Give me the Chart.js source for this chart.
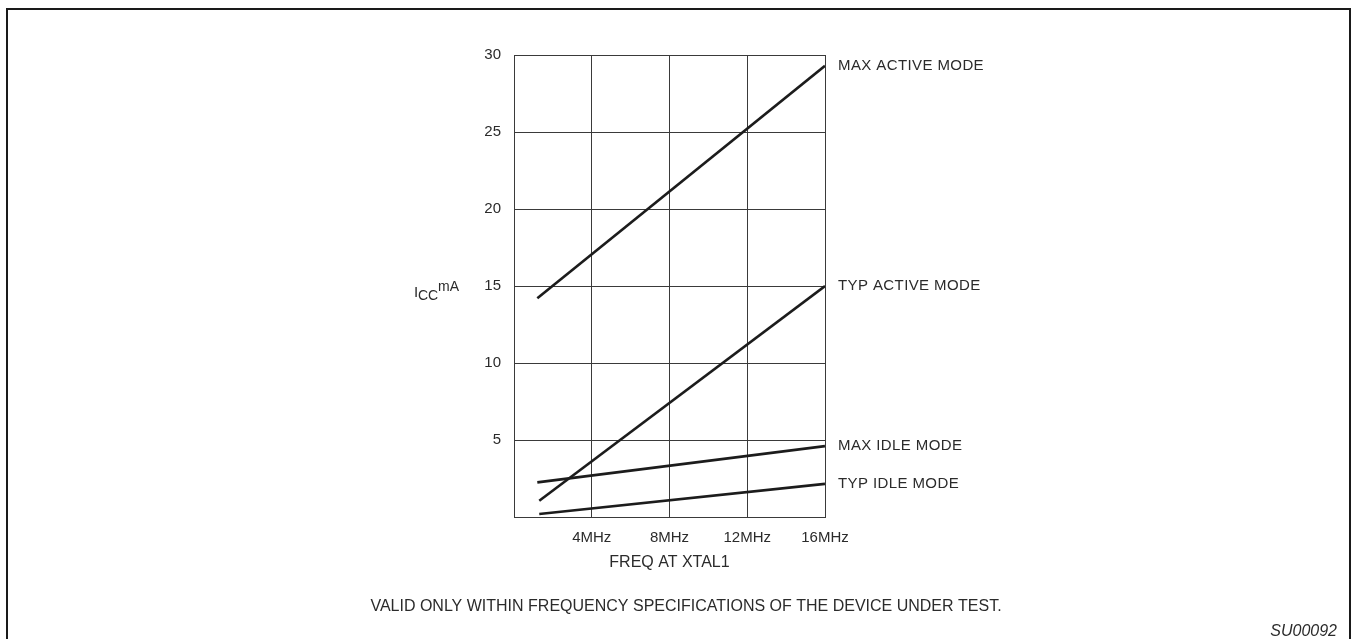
<!DOCTYPE html>
<html>
<head>
<meta charset="utf-8">
<style>
  html, body { margin: 0; padding: 0; background: #fff; }
  #iccChart { display: block; }
</style>
<script src="https://cdn.jsdelivr.net/npm/chart.js"></script>
</head>
<body>
<canvas id="iccChart" width="1353" height="639"></canvas>
<script>
// ICC vs frequency data
const seriesNames = ['MAX ACTIVE MODE', 'TYP ACTIVE MODE', 'MAX IDLE MODE', 'TYP IDLE MODE'];
const maxActiveFreq = [1.2, 16];
const maxActiveIcc = [14.2, 29.3];
const typActiveFreq = [1.3, 16];
const typActiveIcc = [1.05, 15.0];
const maxIdleFreq = [1.2, 16];
const maxIdleIcc = [2.25, 4.6];
const typIdleFreq = [1.3, 16];
const typIdleIcc = [0.2, 2.15];

const yTicks = [5, 10, 15, 20, 25, 30];
const xTicks = [4, 8, 12, 16];

const ink = '#1c1c1c';
const textColor = '#2b2b2b';
const gridColor = '#3a3a3a';
const fontName = '"Liberation Sans", Arial, sans-serif';

function toPoints(xs, ys) {
    return xs.map((x, i) => ({ x: x, y: ys[i] }));
}

const seriesData = [
    toPoints(maxActiveFreq, maxActiveIcc),
    toPoints(typActiveFreq, typActiveIcc),
    toPoints(maxIdleFreq, maxIdleIcc),
    toPoints(typIdleFreq, typIdleIcc)
];

// Draws series labels, axis captions, footnote and frame
const annotations = {
    id: 'annotations',
    afterDatasetsDraw(chart) {
        const ctx = chart.ctx;
        const area = chart.chartArea;
        ctx.save();
        ctx.fillStyle = textColor;
        ctx.textBaseline = 'middle';

        // series labels at the right end of each line
        ctx.font = '15px ' + fontName;
        ctx.letterSpacing = '0.4px';
        ctx.textAlign = 'left';
        chart.data.datasets.forEach((ds, i) => {
            const pts = chart.getDatasetMeta(i).data;
            const last = pts[pts.length - 1];
            ctx.fillText(ds.label, area.right + 13, last.y);
        });
        ctx.letterSpacing = '0px';

        // y axis caption: I_CC mA
        ctx.textBaseline = 'alphabetic';
        ctx.font = '15px ' + fontName;
        ctx.fillText('I', 414, 297);
        ctx.font = '14px ' + fontName;
        ctx.fillText('CC', 418, 300);
        ctx.font = '14px ' + fontName;
        ctx.fillText('mA', 438, 291);

        // x axis caption
        ctx.textAlign = 'center';
        ctx.textBaseline = 'middle';
        ctx.font = '16px ' + fontName;
        ctx.fillText('FREQ AT XTAL1', (area.left + area.right) / 2, 563);

        // footnote
        ctx.fillText('VALID ONLY WITHIN FREQUENCY SPECIFICATIONS OF THE DEVICE UNDER TEST.', 686, 607);

        // figure code
        ctx.textAlign = 'right';
        ctx.font = 'italic 16px ' + fontName;
        ctx.fillText('SU00092', 1337, 632);

        // outer frame
        ctx.strokeStyle = '#1a1a1a';
        ctx.lineWidth = 2;
        ctx.strokeRect(7, 9, 1343, 640);
        ctx.restore();
    }
};

new Chart(document.getElementById('iccChart').getContext('2d'), {
    type: 'line',
    data: {
        datasets: seriesNames.map((name, i) => ({
            label: name,
            data: seriesData[i],
            borderColor: ink,
            borderWidth: 2.6,
            pointRadius: 0,
            tension: 0,
            fill: false
        }))
    },
    options: {
        responsive: false,
        animation: false,
        layout: { padding: { left: 0, right: 528, top: 55, bottom: 0 } },
        plugins: {
            legend: { display: false },
            tooltip: { enabled: false }
        },
        scales: {
            x: {
                type: 'linear',
                min: 0,
                max: 16,
                afterFit: s => { s.height = 122; },
                afterBuildTicks: s => { s.ticks = [0].concat(xTicks).map(v => ({ value: v })); },
                ticks: {
                    padding: 12,
                    color: textColor,
                    font: { family: fontName, size: 15 },
                    callback: v => v === 0 ? '' : v + 'MHz'
                },
                grid: { color: gridColor, lineWidth: 1, drawTicks: false },
                border: { color: gridColor, width: 1 }
            },
            y: {
                min: 0,
                max: 30,
                afterFit: s => { s.width = 514; },
                afterBuildTicks: s => { s.ticks = [0].concat(yTicks).map(v => ({ value: v })); },
                ticks: {
                    padding: 13,
                    color: textColor,
                    font: { family: fontName, size: 15 },
                    callback: v => v === 0 ? '' : v
                },
                grid: { color: gridColor, lineWidth: 1, drawTicks: false },
                border: { color: gridColor, width: 1 }
            }
        }
    },
    plugins: [annotations]
});
</script>
</body>
</html>
